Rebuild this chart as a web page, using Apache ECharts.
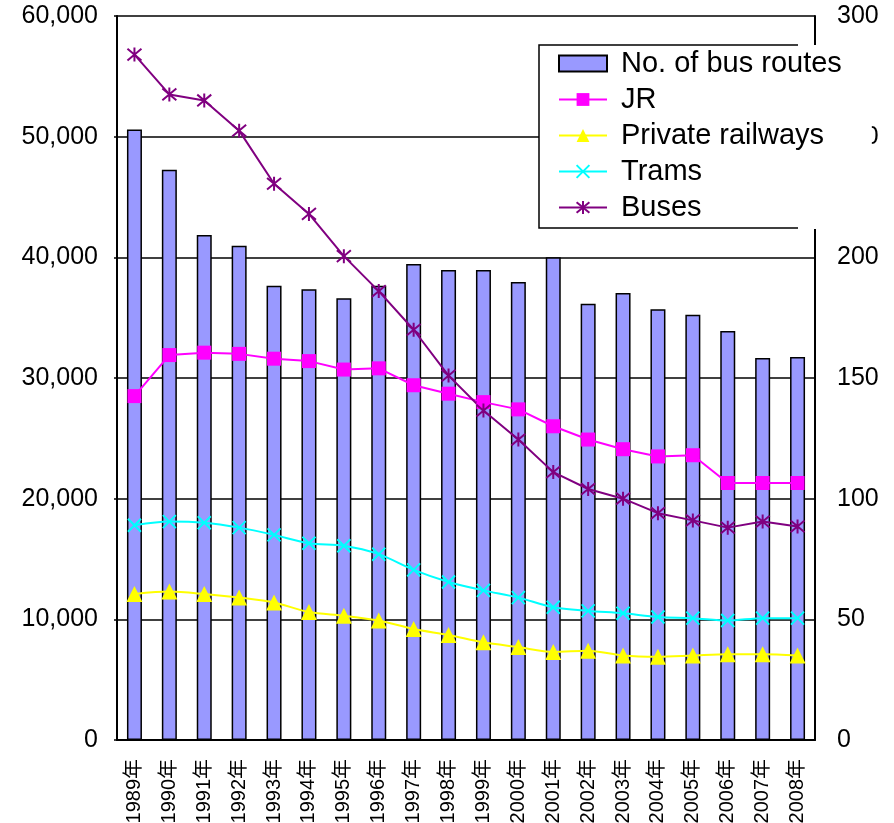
<!DOCTYPE html>
<html>
<head>
<meta charset="utf-8">
<script src="https://cdn.jsdelivr.net/npm/echarts@6/dist/echarts.min.js"></script>
<style>
html, body { margin: 0; padding: 0; background: #fff; }
#main { width: 894px; height: 823px; }
</style>
</head>
<body>
<div id="main"></div>
<script>
const years = ['1989年', '1990年', '1991年', '1992年', '1993年', '1994年', '1995年', '1996年', '1997年', '1998年',
  '1999年', '2000年', '2001年', '2002年', '2003年', '2004年', '2005年', '2006年', '2007年', '2008年'];

// left axis
const busRoutes = [50600, 47250, 41850, 40950, 37650, 37350, 36600, 37650, 39450, 38950,
  38950, 37950, 40000, 36150, 37050, 35700, 35250, 33900, 31650, 31750];

// right axis
const jr = [142.5, 159.5, 160.5, 160, 158, 157, 153.5, 154, 147, 143.5,
  140, 137, 130, 124.5, 120.5, 117.5, 118, 106.5, 106.5, 106.5];
const privateRail = [60.5, 61.5, 60.5, 59, 57, 53, 51.5, 49.5, 46, 43.5,
  40.5, 38.5, 36.5, 37, 35, 34.5, 35, 35.5, 35.5, 35];
const trams = [89, 90.5, 90, 88, 85, 81.5, 80.5, 77, 70.5, 65.5,
  62, 59, 55, 53.5, 52.5, 51, 50.5, 49.5, 50.5, 50.5];
const buses = [284, 267.5, 265, 252.5, 230.5, 218, 200.5, 186, 170, 151,
  136.5, 124.5, 111, 104, 100, 94, 91, 88, 90.5, 88.5];

const leftTicks = { min: 0, max: 60000, interval: 10000 };
const rightTicks = { min: 0, max: 300, interval: 50 };

const font = '"Liberation Sans", Arial, "Noto Sans CJK JP", sans-serif';

const crossPath = 'path://M0,0L10,10M10,0L0,10';
const starPath = 'path://M0,0L10,10M10,0L0,10M5,-1L5,11';

const chart = echarts.init(document.getElementById('main'));

const option = {
  backgroundColor: '#fff',
  animation: false,
  textStyle: { fontFamily: font, color: '#000' },
  grid: { left: 117, right: 79, top: 16, bottom: 83, outerBoundsMode: 'none', containLabel: false },
  legend: {
    orient: 'vertical',
    left: 539,
    top: 45,
    padding: [3, 30, 6, 19],
    itemWidth: 48,
    itemHeight: 16,
    itemGap: 5,
    backgroundColor: '#fff',
    borderWidth: 0,
    z: 10,
    textStyle: { fontSize: 29, lineHeight: 31, color: '#000', fontFamily: font, padding: [0, 0, 0, 9] },
    data: [{ name: 'No. of bus routes', icon: 'rect' }, 'JR', 'Private railways', 'Trams', 'Buses']
  },
  graphic: [{
    type: 'polyline',
    z: 100,
    shape: { points: [[798, 45], [539, 45], [539, 228], [798, 228]] },
    style: { stroke: '#000', lineWidth: 1.5, fill: null }
  }],
  xAxis: {
    type: 'category',
    data: years,
    axisLine: { lineStyle: { color: '#000', width: 2 } },
    axisTick: { inside: true, length: 5, interval: 0, lineStyle: { color: '#000', width: 1.5 } },
    axisLabel: { rotate: 90, interval: 0, fontSize: 20, margin: 19, color: '#000', fontFamily: font }
  },
  yAxis: [{
    type: 'value',
    min: leftTicks.min,
    max: leftTicks.max,
    interval: leftTicks.interval,
    axisLine: { show: true, lineStyle: { color: '#000', width: 2 } },
    axisTick: { show: true, length: 3, lineStyle: { color: '#000', width: 1.5 } },
    splitLine: { lineStyle: { color: '#000', width: 1.5 } },
    axisLabel: {
      fontSize: 25, margin: 19, color: '#000', fontFamily: font,
      formatter: v => v.toLocaleString('en-US')
    }
  }, {
    type: 'value',
    min: rightTicks.min,
    max: rightTicks.max,
    interval: rightTicks.interval,
    position: 'right',
    axisLine: { show: true, lineStyle: { color: '#000', width: 2 } },
    axisTick: { show: false },
    splitLine: { show: false },
    axisLabel: { fontSize: 25, margin: 22, color: '#000', fontFamily: font }
  }],
  series: [{
    name: 'No. of bus routes',
    type: 'bar',
    yAxisIndex: 0,
    barWidth: 15,
    data: busRoutes,
    itemStyle: { color: '#9999FF', borderColor: '#000', borderWidth: 1.5 }
  }, {
    name: 'JR',
    type: 'line',
    yAxisIndex: 1,
    data: jr,
    symbol: 'rect',
    symbolSize: 14,
    lineStyle: { color: '#FF00FF', width: 2 },
    itemStyle: { color: '#FF00FF' }
  }, {
    name: 'Private railways',
    type: 'line',
    yAxisIndex: 1,
    data: privateRail,
    smooth: 0.3,
    symbol: 'triangle',
    symbolSize: 16,
    lineStyle: { color: '#FFFF00', width: 2 },
    itemStyle: { color: '#FFFF00' }
  }, {
    name: 'Trams',
    type: 'line',
    yAxisIndex: 1,
    data: trams,
    smooth: 0.3,
    symbol: crossPath,
    symbolSize: 13,
    lineStyle: { color: '#00FFFF', width: 2 },
    itemStyle: { color: 'rgba(0,0,0,0)', borderColor: '#00FFFF', borderWidth: 2 }
  }, {
    name: 'Buses',
    type: 'line',
    yAxisIndex: 1,
    data: buses,
    symbol: starPath,
    symbolSize: 14,
    lineStyle: { color: '#800080', width: 2 },
    itemStyle: { color: 'rgba(0,0,0,0)', borderColor: '#800080', borderWidth: 2 }
  }]
};

chart.setOption(option);
</script>
</body>
</html>
